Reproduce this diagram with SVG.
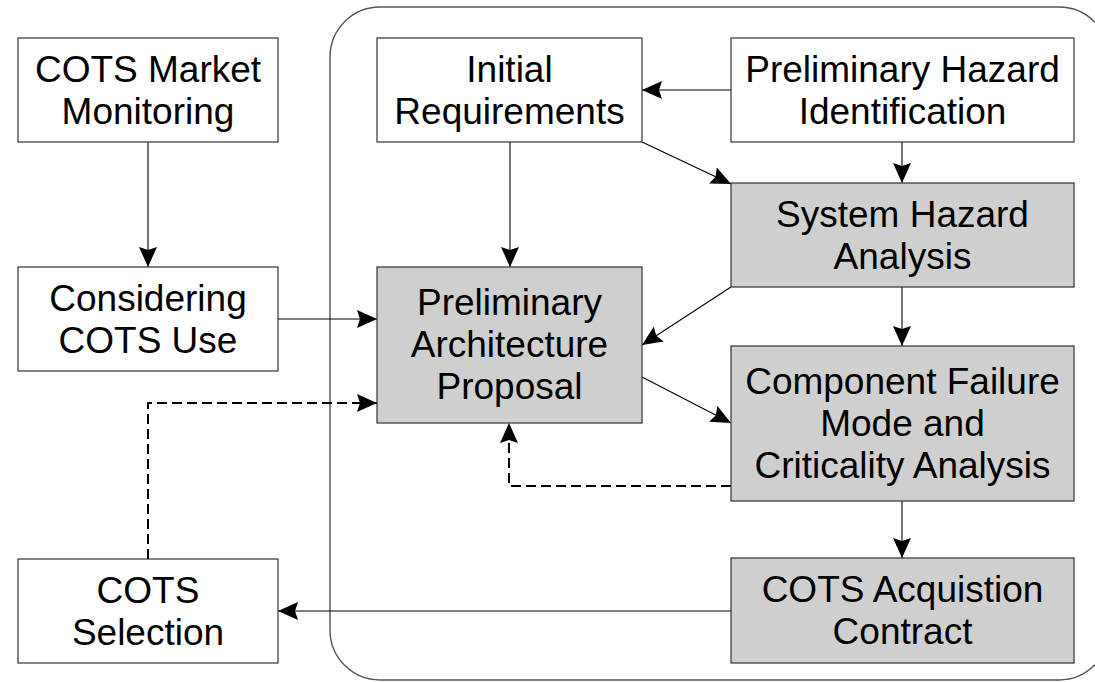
<svg xmlns="http://www.w3.org/2000/svg" width="1095" height="682" viewBox="0 0 1095 682">
  <defs>
    <marker id="arr" viewBox="0 0 20 18" refX="20" refY="9" markerWidth="20" markerHeight="18" markerUnits="userSpaceOnUse" orient="auto">
      <path d="M0,0 L20,9 L0,18 L3,9 Z" fill="#000" stroke="none"/>
    </marker>
    <style>
      .box { fill: #ffffff; stroke: #333333; stroke-width: 1.2; }
      .grey { fill: #cfcfcf; stroke: #333333; stroke-width: 1.2; }
      .lbl { font-family: "Liberation Sans", Arial, sans-serif; font-size: 37px; fill: #000; text-anchor: middle; }
      .conn { fill: none; stroke: #000; stroke-width: 1.1; marker-end: url(#arr); }
      .dash { fill: none; stroke: #000; stroke-width: 2; stroke-dasharray: 10 5; marker-end: url(#arr); }
      .frame { fill: none; stroke: #555555; stroke-width: 1.4; }
    </style>
  </defs>
  <rect width="1095" height="682" fill="#ffffff"/>
  <rect id="container" class="frame" x="330" y="7" width="779" height="673" rx="50" ry="50"/>

  <g id="connectors">
    <line class="conn" x1="148" y1="142" x2="148" y2="267"/>
    <line class="conn" x1="278" y1="319" x2="377" y2="319"/>
    <line class="conn" x1="731" y1="90" x2="642" y2="90"/>
    <line class="conn" x1="510" y1="142" x2="510" y2="267"/>
    <line class="conn" x1="642" y1="142" x2="731" y2="184"/>
    <line class="conn" x1="902" y1="142" x2="902" y2="183"/>
    <line class="conn" x1="731" y1="287" x2="642" y2="345"/>
    <line class="conn" x1="902" y1="287" x2="902" y2="346"/>
    <line class="conn" x1="642" y1="377" x2="731" y2="423"/>
    <polyline class="dash" points="731,486 509,486 509,423"/>
    <line class="conn" x1="902" y1="501" x2="902" y2="558"/>
    <line class="conn" x1="731" y1="611" x2="278" y2="611"/>
    <polyline class="dash" points="148,559 148,403 377,403"/>
  </g>

  <g id="cots-market-monitoring">
    <rect class="box" x="18" y="38" width="260" height="104"/>
    <text class="lbl" x="148" y="82">COTS Market</text>
    <text class="lbl" x="148" y="124">Monitoring</text>
  </g>
  <g id="considering-cots-use">
    <rect class="box" x="18" y="267" width="260" height="104"/>
    <text class="lbl" x="148" y="311">Considering</text>
    <text class="lbl" x="148" y="353">COTS Use</text>
  </g>
  <g id="cots-selection">
    <rect class="box" x="18" y="559" width="260" height="104"/>
    <text class="lbl" x="148" y="603">COTS</text>
    <text class="lbl" x="148" y="645">Selection</text>
  </g>
  <g id="initial-requirements">
    <rect class="box" x="377" y="38" width="265" height="104"/>
    <text class="lbl" x="509.5" y="82">Initial</text>
    <text class="lbl" x="509.5" y="124">Requirements</text>
  </g>
  <g id="preliminary-hazard-identification">
    <rect class="box" x="731" y="38" width="343" height="104"/>
    <text class="lbl" x="902.5" y="82">Preliminary Hazard</text>
    <text class="lbl" x="902.5" y="124">Identification</text>
  </g>
  <g id="system-hazard-analysis">
    <rect class="grey" x="731" y="183" width="343" height="104"/>
    <text class="lbl" x="902.5" y="227">System Hazard</text>
    <text class="lbl" x="902.5" y="269">Analysis</text>
  </g>
  <g id="preliminary-architecture-proposal">
    <rect class="grey" x="377" y="267" width="265" height="156"/>
    <text class="lbl" x="509.5" y="315">Preliminary</text>
    <text class="lbl" x="509.5" y="357">Architecture</text>
    <text class="lbl" x="509.5" y="399">Proposal</text>
  </g>
  <g id="component-failure-mode">
    <rect class="grey" x="731" y="346" width="343" height="155"/>
    <text class="lbl" x="902.5" y="394">Component Failure</text>
    <text class="lbl" x="902.5" y="436">Mode and</text>
    <text class="lbl" x="902.5" y="478">Criticality Analysis</text>
  </g>
  <g id="cots-acquisition-contract">
    <rect class="grey" x="731" y="558" width="343" height="105"/>
    <text class="lbl" x="902.5" y="602">COTS Acquistion</text>
    <text class="lbl" x="902.5" y="644">Contract</text>
  </g>
</svg>
